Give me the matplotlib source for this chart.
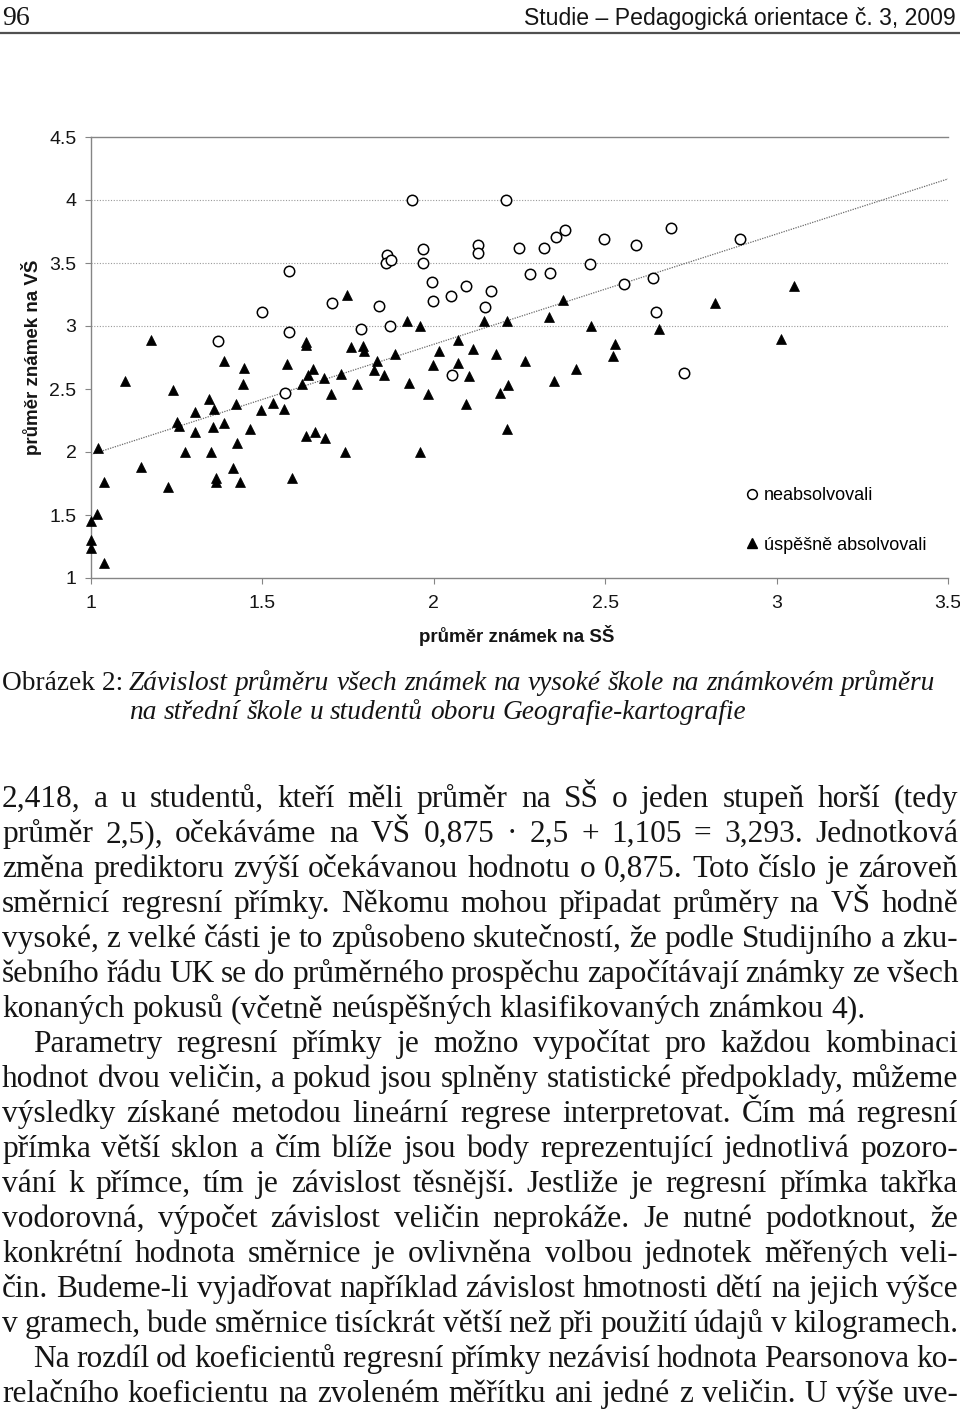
import numpy as np
import matplotlib.pyplot as plt
from matplotlib.lines import Line2D

W, H = 960, 1417

# neabsolvovali (prázdné kroužky)
neabs_x = [1.936, 2.211, 1.578, 1.863, 1.861, 1.875, 1.968, 1.968, 2.129, 2.129,
           2.249, 2.321, 2.356, 2.383, 2.497, 2.590, 2.692, 2.893, 1.995, 2.281,
           2.339, 2.456, 2.094, 2.050, 1.998, 2.167, 2.555, 2.639, 1.499, 1.703,
           1.840, 2.149, 1.578, 1.370, 1.788, 1.872, 2.648, 2.730, 1.566, 2.053]
neabs_y = [4.00, 4.00, 3.44, 3.56, 3.50, 3.52, 3.61, 3.50, 3.64, 3.58,
           3.62, 3.62, 3.71, 3.76, 3.69, 3.64, 3.78, 3.69, 3.35, 3.41,
           3.42, 3.49, 3.32, 3.24, 3.20, 3.28, 3.33, 3.38, 3.11, 3.18,
           3.16, 3.15, 2.95, 2.88, 2.98, 3.00, 3.11, 2.63, 2.47, 2.61]

# úspěšně absolvovali (plné trojúhelníky)
abs_x = [1.747, 1.175, 1.627, 1.627, 1.758, 1.793, 1.796, 1.834, 1.826, 1.388,
         1.446, 1.572, 1.099, 1.239, 1.443, 1.648, 1.633, 1.680, 1.729, 1.616,
         1.776, 1.700, 1.344, 1.359, 1.303, 1.423, 1.496, 1.531, 1.563, 1.251,
         1.257, 1.388, 1.356, 1.303, 1.464, 1.020, 1.426, 1.627, 1.653, 1.683,
         1.274, 1.350, 1.741, 1.146, 1.414, 1.038, 1.225, 1.365, 1.365, 1.435,
         1.586, 1.018, 1.000, 1.000, 1.000, 1.038, 1.922, 1.960, 2.146, 2.214,
         2.336, 2.377, 2.459, 2.657, 2.071, 2.529, 2.015, 2.114, 2.181, 1.887,
         2.523, 2.266, 1.855, 1.998, 2.071, 2.103, 1.928, 1.983, 2.216, 2.193,
         2.351, 2.415, 2.094, 2.214, 1.960, 3.051, 2.820, 3.013]
abs_y = [3.25, 2.89, 2.87, 2.85, 2.83, 2.84, 2.80, 2.72, 2.65, 2.72,
         2.67, 2.70, 2.56, 2.49, 2.54, 2.66, 2.61, 2.59, 2.62, 2.54,
         2.54, 2.46, 2.42, 2.34, 2.32, 2.38, 2.33, 2.39, 2.34, 2.24,
         2.21, 2.23, 2.20, 2.16, 2.18, 2.03, 2.07, 2.13, 2.16, 2.11,
         2.00, 2.00, 2.00, 1.88, 1.87, 1.76, 1.72, 1.79, 1.76, 1.76,
         1.79, 1.51, 1.45, 1.30, 1.24, 1.12, 3.04, 3.00, 3.04, 3.04,
         3.07, 3.21, 3.00, 2.98, 2.89, 2.86, 2.80, 2.82, 2.78, 2.78,
         2.76, 2.72, 2.61, 2.69, 2.71, 2.60, 2.55, 2.46, 2.53, 2.47,
         2.56, 2.66, 2.38, 2.18, 2.00, 3.32, 3.18, 2.90]

# regresní přímka
slope, intercept = 0.875, 1.105

x_ticks = [1, 1.5, 2, 2.5, 3, 3.5]
x_tick_labels = ["1", "1.5", "2", "2.5", "3", "3.5"]
y_ticks = [1, 1.5, 2, 2.5, 3, 3.5, 4, 4.5]
y_tick_labels = ["1", "1.5", "2", "2.5", "3", "3.5", "4", "4.5"]
grid_levels = [3, 3.5, 4]

header_left = "96"
header_right = "Studie – Pedagogická orientace č. 3, 2009"
caption_label = "Obrázek 2:"
caption_lines = ["Závislost průměru všech známek na vysoké škole na známkovém průměru",
                 "na střední škole u studentů oboru Geografie-kartografie"]
body_lines = [
    "2,418, a u studentů, kteří měli průměr na SŠ o jeden stupeň horší (tedy",
    "průměr 2,5), očekáváme na VŠ 0,875 · 2,5 + 1,105 = 3,293. Jednotková",
    "změna prediktoru zvýší očekávanou hodnotu o 0,875. Toto číslo je zároveň",
    "směrnicí regresní přímky. Někomu mohou připadat průměry na VŠ hodně",
    "vysoké, z velké části je to způsobeno skutečností, že podle Studijního a zku-",
    "šebního řádu UK se do průměrného prospěchu započítávají známky ze všech",
    "konaných pokusů (včetně neúspěšných klasifikovaných známkou 4).",
    "Parametry regresní přímky je možno vypočítat pro každou kombinaci",
    "hodnot dvou veličin, a pokud jsou splněny statistické předpoklady, můžeme",
    "výsledky získané metodou lineární regrese interpretovat. Čím má regresní",
    "přímka větší sklon a čím blíže jsou body reprezentující jednotlivá pozoro-",
    "vání k přímce, tím je závislost těsnější. Jestliže je regresní přímka takřka",
    "vodorovná, výpočet závislost veličin neprokáže. Je nutné podotknout, že",
    "konkrétní hodnota směrnice je ovlivněna volbou jednotek měřených veli-",
    "čin. Budeme-li vyjadřovat například závislost hmotnosti dětí na jejich výšce",
    "v gramech, bude směrnice tisíckrát větší než při použití údajů v kilogramech.",
    "Na rozdíl od koeficientů regresní přímky nezávisí hodnota Pearsonova ko-",
    "relačního koeficientu na zvoleném měřítku ani jedné z veličin. U výše uve-",
]
indented = [7, 16]
ragged = [6]

SANS = "Liberation Sans"
SERIF = "Liberation Serif"
INK = "#151515"

fig = plt.figure(figsize=(W / 100, H / 100), dpi=100)
fig.patch.set_facecolor("white")
renderer = fig.canvas.get_renderer()


def text_width(s, **kw):
    t = fig.text(0, 0, s, **kw)
    w = t.get_window_extent(renderer).width
    t.remove()
    return w


def put_line(s, y, x0, x1, justify=True, **kw):
    words = s.split()
    widths = [text_width(w, **kw) for w in words]
    if justify and len(words) > 1:
        gap = (x1 - x0 - sum(widths)) / (len(words) - 1)
    else:
        gap = text_width("a a", **kw) - text_width("aa", **kw)
    x = x0
    for w, wd in zip(words, widths):
        fig.text(x / W, 1 - y / H, w, ha="left", va="baseline", **kw)
        x += wd + gap


# --- záhlaví stránky
fig.text(2 / W, 1 - 25 / H, header_left, family=SERIF, size=20, color=INK,
         ha="left", va="baseline")
hdr_fs = 16 * 433 / text_width(header_right, size=16, family=SANS)
fig.text(956 / W, 1 - 25 / H, header_right, family=SANS, size=hdr_fs, color=INK,
         ha="right", va="baseline")
fig.add_artist(Line2D([0, 1], [1 - 33 / H, 1 - 33 / H], color="#505050", lw=1.6))

# --- graf
ax = fig.add_axes([91 / W, 1 - 578 / H, (948 - 91) / W, (578 - 137) / H])
ax.set_xlim(1, 3.5)
ax.set_ylim(1, 4.5)
for lev in grid_levels:
    ax.axhline(lev, color="#9a9a9a", lw=0.8, ls=(0, (1, 1.5)), zorder=0)
xs = np.array([1.0, 3.5])
ax.plot(xs, slope * xs + intercept, color="#6a6a6a", lw=0.9, ls=(0, (1, 1)), zorder=1)
ax.plot(neabs_x, neabs_y, "o", ms=7.5, mfc="white", mec="black", mew=1.1,
        clip_on=False, zorder=3)
ax.plot(abs_x, abs_y, "^", ms=7.5, mfc="black", mec="black", mew=0.5,
        clip_on=False, zorder=3)

for side in ["left", "bottom", "top"]:
    ax.spines[side].set_color("#858585")
    ax.spines[side].set_linewidth(1.0)
ax.spines["right"].set_visible(False)
ax.set_xticks(x_ticks)
ax.set_xticklabels(x_tick_labels)
ax.set_yticks(y_ticks)
ax.set_yticklabels(y_tick_labels)
ax.tick_params(direction="out", length=4.5, width=0.8, color="#858585",
               labelsize=14, labelcolor=INK)
ax.tick_params(axis="x", pad=8)
ax.tick_params(axis="y", pad=6)
for lab in ax.get_xticklabels() + ax.get_yticklabels():
    lab.set_family(SANS)

fig.text(517 / W, 1 - 635 / H, "průměr známek na SŠ", family=SANS, size=13.5,
         weight="bold", color=INK, ha="center", va="center")
fig.text(32 / W, 1 - 357 / H, "průměr známek na VŠ", family=SANS, size=13.5,
         weight="bold", color=INK, ha="center", va="center", rotation=90)

handles = [Line2D([], [], ls="none", marker="o", ms=7, mfc="white", mec="black", mew=1.1),
           Line2D([], [], ls="none", marker="^", ms=7, mfc="black", mec="black")]
ax.legend(handles, ["neabsolvovali", "úspěšně absolvovali"], loc="upper left",
          bbox_to_anchor=(746 / W, 1 - 487 / H), bbox_transform=fig.transFigure,
          frameon=False, prop={"family": SANS, "size": 13}, handlelength=0.7,
          handletextpad=0.3, labelspacing=1.8, borderpad=0, borderaxespad=0)

# --- popisek obrázku
cap_kw = dict(family=SERIF, color=INK)
cap_fs = 18 * 805 / text_width(caption_lines[0], size=18, style="italic", **cap_kw)
fig.text(2 / W, 1 - 690 / H, caption_label, size=cap_fs, ha="left",
         va="baseline", **cap_kw)
put_line(caption_lines[0], 690, 129, 935, justify=True, size=cap_fs,
         style="italic", **cap_kw)
put_line(caption_lines[1], 719, 129, 935, justify=False, size=cap_fs,
         style="italic", **cap_kw)

# --- text
body_kw = dict(family=SERIF, color=INK)
body_fs = 20 * 860 / text_width(body_lines[6], size=20, **body_kw)
for i, line in enumerate(body_lines):
    x0 = 33 if i in indented else 2
    put_line(line, 807 + 35 * i, x0, 958, justify=i not in ragged,
             size=body_fs, **body_kw)

fig.savefig("out.png", dpi=100, facecolor="white")
